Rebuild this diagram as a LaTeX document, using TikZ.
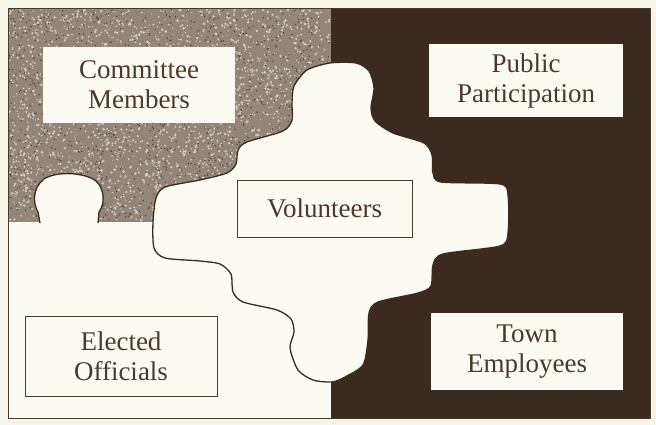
\documentclass[tikz,border=0pt]{standalone}
\usepackage{fontspec}
\setmainfont{Liberation Serif}

\definecolor{paper}{HTML}{F6F5EC}
\definecolor{piece}{HTML}{FCFBF3}
\definecolor{bark}{HTML}{3A2A1F}
\definecolor{stone}{HTML}{918679}
\definecolor{grain}{HTML}{D3CCC0}
\definecolor{soot}{HTML}{54463A}
\definecolor{ink}{HTML}{4A392C}

\begin{document}
\begin{tikzpicture}[x=1pt,y=-1pt,line join=round]
    \tikzstyle{label box}=[fill=piece,text=ink,align=center,inner sep=0pt,
      font=\fontsize{27}{30}\selectfont]
    \tikzstyle{framed box}=[label box,draw=ink,line width=0.8pt]
    \tikzstyle{edge line}=[draw=bark,line width=1.3pt]

    \useasboundingbox[fill=paper] (0,0) rectangle (656,425);

    % background quarters
    \fill[piece] (8,8) rectangle (650,418);
    \fill[stone] (8,8) rectangle (331,222);
    \fill[bark] (331,8) rectangle (650,418);

    % speckles on the top left quarter
    \pgfmathsetseed{11}
    \foreach \i in {1,...,2600}
    \fill[grain] ({9.5+320*rnd},{9.5+211*rnd}) circle ({0.6+0.8*rnd});
    \foreach \i in {1,...,1100}
    \fill[soot] ({9.5+320*rnd},{9.5+211*rnd}) circle (0.8pt);

    % knob cut into the speckled piece
    \path[fill=piece,edge line] (40,223) -- (38,212)
      .. controls (33,204) and (32,188) .. (44,179)
      .. controls (56,171) and (84,172) .. (96,181)
      .. controls (106,190) and (104,206) .. (99,212) -- (98,223);

    % the middle piece
    \path[fill=piece,edge line] plot[smooth cycle,tension=0.45] coordinates {
      (153,222) (156,198) (165,187) (200,180) (227,173) (236,164) (238,150)
      (247,142) (283,131) (292,120) (292,103) (294,86) (307,70) (330,63)
      (356,63) (369,71) (374,88) (371,108) (375,121) (393,133) (424,143)
      (432,155) (433,173) (441,182) (500,184) (508,195) (508,233) (500,246)
      (443,254) (433,265) (431,286) (418,293) (378,302) (369,313) (368,340)
      (363,365) (345,377) (332,382) (313,380) (298,370) (290,348) (294,332)
      (291,319) (277,310) (243,302) (233,292) (231,274) (220,264) (200,261)
      (165,258) (154,248)};

    % outer frame
    \draw[ink,line width=0.8pt] (8,8) rectangle (650,418);

    % labels
    \node[label box,minimum width=192pt,minimum height=76pt] (committee) at (139,85)
      {Committee\\Members};
    \node[label box,minimum width=194pt,minimum height=73pt] (public) at (526,81)
      {Public\\Participation};
    \node[framed box,minimum width=175pt,minimum height=57pt] (volunteers) at (324.5,208.5)
      {Volunteers};
    \node[framed box,minimum width=192pt,minimum height=80pt] (elected) at (121,356)
      {Elected\\Officials};
    \node[label box,minimum width=192pt,minimum height=77pt] (town) at (527,351.5)
      {Town\\Employees};
  \end{tikzpicture}
\end{document}
